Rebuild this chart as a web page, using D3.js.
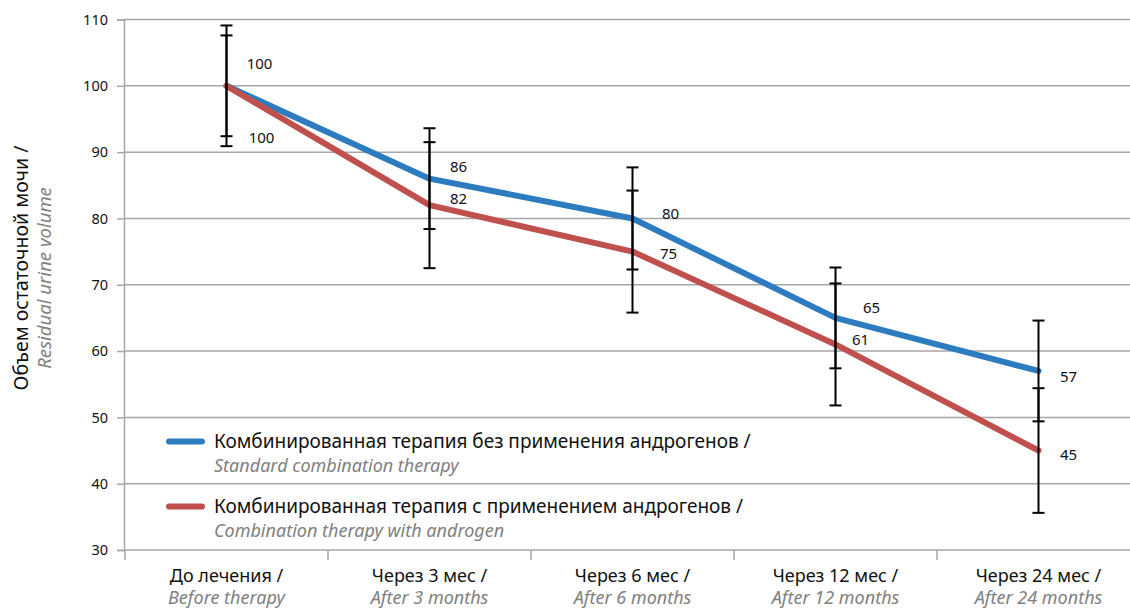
<!DOCTYPE html>
<html><head><meta charset="utf-8">
<script src="https://cdn.jsdelivr.net/npm/d3@7/dist/d3.min.js"></script>
<style>
body{margin:0;background:#fff;}
svg{display:block;font-family:"Noto Sans","Open Sans",sans-serif;}
</style></head>
<body><svg id="c" width="1130" height="609"></svg>
<script>
// ---- data ----
const categoriesRu = ["До лечения /","Через 3 мес /","Через 6 мес /","Через 12 мес /","Через 24 мес /"];
const categoriesEn = ["Before therapy","After 3 months","After 6 months","After 12 months","After 24 months"];
const standardValues = [100, 86, 80, 65, 57];
const standardErrors = [9.1, 7.6, 7.7, 7.6, 7.6];
const androgenValues = [100, 82, 75, 61, 45];
const androgenErrors = [7.6, 9.5, 9.2, 9.2, 9.4];
const yTicks = [30, 40, 50, 60, 70, 80, 90, 100, 110];
const seriesNamesRu = ["Комбинированная терапия без применения андрогенов /","Комбинированная терапия с применением андрогенов /"];
const seriesNamesEn = ["Standard combination therapy","Combination therapy with androgen"];
const yTitleRu = "Объем остаточной мочи /";
const yTitleEn = "Residual urine volume";

// ---- styling ----
const blue = "#2c7cbf", red = "#c0504d", grid = "#a6a6a6", gray = "#808080";
const labelOffsets = [
  [[33,-22],[29,-12],[38,-4],[36,-10],[30,6]],
  [[35,52],[29,-6],[36,2],[25,-4],[30,4]]
];

const svg = d3.select("#c");
const x = d3.scaleBand().domain(categoriesRu).range([125, 1140]).padding(0);
const y = d3.scaleLinear().domain([30, 110]).range([550, 19.5]);
const cx = i => x(categoriesRu[i]) + x.bandwidth()/2;

// gridlines
svg.append("g").selectAll("line").data(yTicks.filter(t=>t>30)).join("line")
  .attr("x1",124).attr("x2",1130).attr("y1",d=>y(d)).attr("y2",d=>y(d))
  .attr("stroke",grid).attr("stroke-width",1.5);

// y axis
const yAxis = svg.append("g").attr("transform","translate(124,0)")
  .call(d3.axisLeft(y).tickValues(yTicks).tickSize(7).tickPadding(9));
yAxis.select(".domain").attr("stroke",grid).attr("stroke-width",1.5);
yAxis.selectAll(".tick line").attr("stroke",grid).attr("stroke-width",1.5);
yAxis.selectAll(".tick text").attr("font-size",14.5).attr("fill","#111").attr("font-family","Noto Sans");

// x axis
const xAxis = svg.append("g").attr("transform","translate(0,550)")
  .call(d3.axisBottom(x).tickSize(0).tickFormat(""));
xAxis.select(".domain").attr("stroke",grid).attr("stroke-width",1.5).attr("d","M124,0H1130");
const bounds = categoriesRu.map(c=>x(c));
svg.append("g").selectAll("line").data(bounds).join("line")
  .attr("x1",d=>d).attr("x2",d=>d).attr("y1",550).attr("y2",560)
  .attr("stroke",grid).attr("stroke-width",1.5);
const xl = svg.append("g").selectAll("g").data(categoriesRu).join("g")
  .attr("transform",(d,i)=>`translate(${cx(i)},0)`);
xl.append("text").attr("y",582).attr("text-anchor","middle").attr("font-size",18).attr("fill","#111").text(d=>d);
xl.append("text").attr("y",604).attr("text-anchor","middle").attr("font-size",18).attr("fill",gray)
  .attr("font-style","italic").text((d,i)=>categoriesEn[i]);

// y title
const yt = svg.append("g").attr("transform","translate(0,268) rotate(-90)");
yt.append("text").attr("x",0).attr("y",28).attr("text-anchor","middle").attr("font-size",19.5).attr("fill","#111").text(yTitleRu);
yt.append("text").attr("x",-10).attr("y",51).attr("text-anchor","middle").attr("font-size",18.5).attr("fill",gray)
  .attr("font-style","italic").text(yTitleEn);

// lines
const series = [
  {vals: standardValues, errs: standardErrors, color: blue},
  {vals: androgenValues, errs: androgenErrors, color: red}
];
const line = d3.line().x((d,i)=>cx(i)).y(d=>y(d));
series.forEach(s=>{
  svg.append("path").attr("d", line(s.vals)).attr("fill","none").attr("stroke",s.color)
    .attr("stroke-width",6).attr("stroke-linejoin","round").attr("stroke-linecap","round");
});

// error bars
series.forEach(s=>{
  const g = svg.append("g").attr("stroke","#000").attr("stroke-width",2);
  s.vals.forEach((v,i)=>{
    const X = cx(i), top = y(v + s.errs[i]), bot = y(v - s.errs[i]);
    g.append("line").attr("x1",X).attr("x2",X).attr("y1",top).attr("y2",bot);
    g.append("line").attr("x1",X-6).attr("x2",X+6).attr("y1",top).attr("y2",top);
    g.append("line").attr("x1",X-6).attr("x2",X+6).attr("y1",bot).attr("y2",bot);
  });
});

// value labels
series.forEach((s,si)=>{
  svg.append("g").selectAll("text").data(s.vals).join("text")
    .attr("x",(d,i)=>cx(i)+labelOffsets[si][i][0])
    .attr("y",(d,i)=>y(d)+labelOffsets[si][i][1]+5)
    .attr("text-anchor","middle").attr("font-size",15).attr("fill","#111").text(d=>d);
});

// legend
const lg = svg.append("g").selectAll("g").data(series).join("g")
  .attr("transform",(d,i)=>`translate(0,${441.5 + i*65})`);
lg.append("line").attr("x1",169).attr("x2",202).attr("y1",0).attr("y2",0)
  .attr("stroke",d=>d.color).attr("stroke-width",6).attr("stroke-linecap","round");
lg.append("text").attr("x",214).attr("y",6.5).attr("font-size",19).attr("fill","#111").text((d,i)=>seriesNamesRu[i]);
lg.append("text").attr("x",214).attr("y",30.5).attr("font-size",18).attr("fill",gray)
  .attr("font-style","italic").text((d,i)=>seriesNamesEn[i]);
</script></body></html>
